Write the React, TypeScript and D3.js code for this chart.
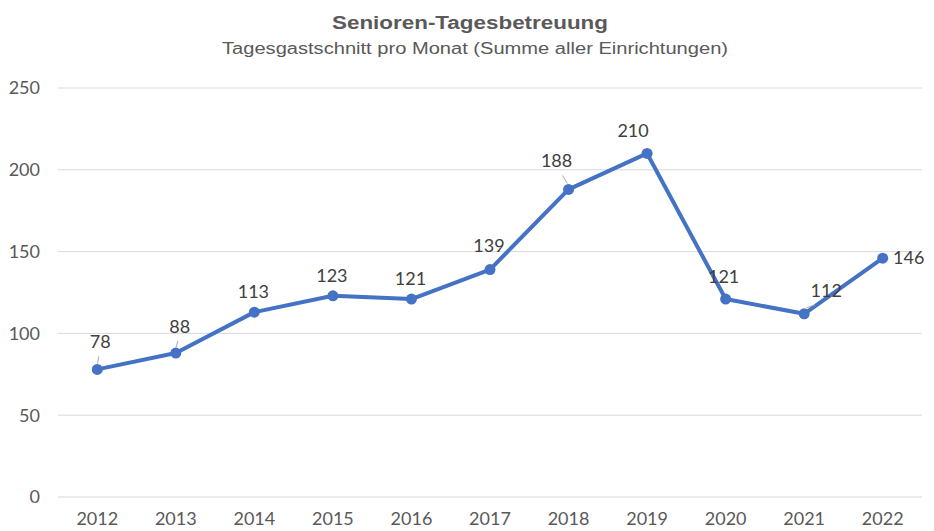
import React, { useEffect, useRef } from 'react';
import * as d3 from 'd3';

const years = ['2012', '2013', '2014', '2015', '2016', '2017', '2018', '2019', '2020', '2021', '2022'];
const values = [78, 88, 113, 123, 121, 139, 188, 210, 121, 112, 146];
const yTicks = [0, 50, 100, 150, 200, 250];

// label placement relative to the point (dx, dy) and whether a leader line is drawn
const labelDx = [3, 4, -1, -1, -1, -1, -12, -14, -2, 22, 26];
const labelDy = [-21, -20, -14, -14, -14, -18, -22, -16, -16, -17, 6];
const leaders = [true, true, false, false, false, false, true, false, false, true, false];

export default function App() {
  const svgRef = useRef<SVGSVGElement>(null);
  const width = 934;
  const height = 531;

  useEffect(() => {
    const svg = d3.select(svgRef.current);
    svg.selectAll('*').remove();

    const margin = { top: 88, left: 58 };
    const plotRight = 922;
    const plotBottom = 497;

    const x = d3.scalePoint<string>()
      .domain(years)
      .range([margin.left, plotRight])
      .padding(0.5);

    const y = d3.scaleLinear()
      .domain([0, 250])
      .range([plotBottom, margin.top]);

    svg.append('rect')
      .attr('width', width)
      .attr('height', height)
      .style('fill', '#ffffff');

    // Title (the original is rendered a bit wide, so stretch horizontally)
    svg.append('text')
      .attr('x', 470)
      .attr('y', 29)
      .attr('text-anchor', 'middle')
      .attr('textLength', 276)
      .attr('lengthAdjust', 'spacingAndGlyphs')
      .style('font-family', '"Liberation Sans", Arial, sans-serif')
      .style('font-size', '18px')
      .style('font-weight', 'bold')
      .style('fill', '#595959')
      .text('Senioren-Tagesbetreuung');

    svg.append('text')
      .attr('x', 475)
      .attr('y', 54)
      .attr('text-anchor', 'middle')
      .attr('textLength', 506)
      .attr('lengthAdjust', 'spacingAndGlyphs')
      .style('font-family', '"Liberation Sans", Arial, sans-serif')
      .style('font-size', '16px')
      .style('fill', '#595959')
      .text('Tagesgastschnitt pro Monat (Summe aller Einrichtungen)');

    // Grid lines
    svg.selectAll('.grid')
      .data(yTicks)
      .enter()
      .append('line')
      .attr('class', 'grid')
      .attr('x1', margin.left)
      .attr('x2', plotRight)
      .attr('y1', d => y(d))
      .attr('y2', d => y(d))
      .style('stroke', '#d9d9d9')
      .style('stroke-width', 1);

    // Y labels
    svg.selectAll('.ylab')
      .data(yTicks)
      .enter()
      .append('text')
      .attr('class', 'ylab')
      .attr('x', 40)
      .attr('y', d => y(d))
      .attr('dy', '0.36em')
      .attr('text-anchor', 'end')
      .style('font-family', 'Lato, sans-serif')
      .style('font-size', '18px')
      .style('fill', '#595959')
      .text(d => d);

    // X labels
    svg.selectAll('.xlab')
      .data(years)
      .enter()
      .append('text')
      .attr('class', 'xlab')
      .attr('x', d => x(d) as number)
      .attr('y', 525)
      .attr('text-anchor', 'middle')
      .style('font-family', 'Lato, sans-serif')
      .style('font-size', '18px')
      .style('fill', '#595959')
      .text(d => d);

    const pts = years.map((yr, i) => ({ yr, v: values[i], i }));

    const line = d3.line<typeof pts[0]>()
      .x(d => x(d.yr) as number)
      .y(d => y(d.v));

    svg.append('path')
      .datum(pts)
      .attr('d', line)
      .style('fill', 'none')
      .style('stroke', '#4472c4')
      .style('stroke-width', 4)
      .style('stroke-linejoin', 'round');

    svg.selectAll('.dot')
      .data(pts)
      .enter()
      .append('circle')
      .attr('class', 'dot')
      .attr('cx', d => x(d.yr) as number)
      .attr('cy', d => y(d.v))
      .attr('r', 5.5)
      .style('fill', '#4472c4');

    // Leader lines
    svg.selectAll('.leader')
      .data(pts.filter(d => leaders[d.i]))
      .enter()
      .append('line')
      .attr('class', 'leader')
      .attr('x1', d => (x(d.yr) as number) + labelDx[d.i] * 0.5)
      .attr('y1', d => y(d.v) + labelDy[d.i] + 8)
      .attr('x2', d => (x(d.yr) as number) + labelDx[d.i] * 0.1)
      .attr('y2', d => y(d.v) - 6)
      .style('stroke', '#a6a6a6')
      .style('stroke-width', 1);

    // Data labels
    svg.selectAll('.dlab')
      .data(pts)
      .enter()
      .append('text')
      .attr('class', 'dlab')
      .attr('x', d => (x(d.yr) as number) + labelDx[d.i])
      .attr('y', d => y(d.v) + labelDy[d.i])
      .attr('text-anchor', 'middle')
      .style('font-family', 'Lato, sans-serif')
      .style('font-size', '18px')
      .style('fill', '#404040')
      .text(d => d.v);
  }, []);

  return (
    <svg
      ref={svgRef}
      width={width}
      height={height}
      style={{ position: 'absolute', left: 0, top: 0 }}
    />
  );
}
